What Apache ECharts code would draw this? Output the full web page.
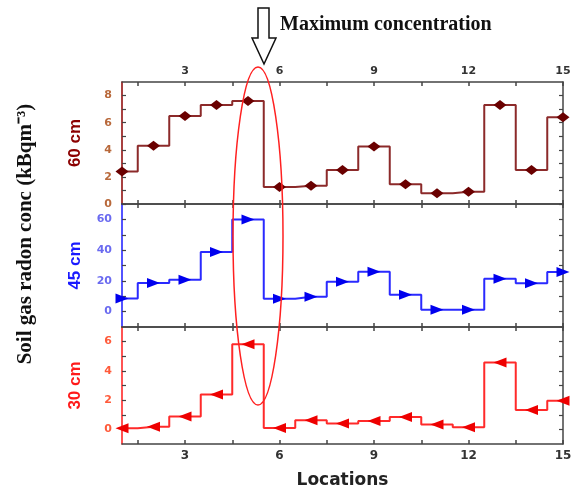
<!DOCTYPE html>
<html>
<head>
<meta charset="utf-8">
<script src="https://cdn.jsdelivr.net/npm/echarts@6/dist/echarts.min.js"></script>
<style>
  html, body { margin: 0; padding: 0; background: #fff; }
  #chart { width: 575px; height: 490px; }
</style>
</head>
<body>
<div id="chart"></div>
<script>
// values (kBq m^-3) at locations 1..15
const locations = [1, 2, 3, 4, 5, 6, 7, 8, 9, 10, 11, 12, 13, 14, 15]
const conc60 = [2.4, 4.3, 6.5, 7.3, 7.6, 1.25, 1.35, 2.5, 4.25, 1.45, 0.8, 0.9, 7.3, 2.5, 6.4]
const conc45 = [8.6, 18.6, 20.7, 38.7, 60, 8.4, 9.7, 19.4, 25.9, 11, 1.2, 1.2, 21.4, 18.4, 25.7]
const conc30 = [0.08, 0.18, 0.88, 2.38, 5.82, 0.1, 0.62, 0.4, 0.58, 0.84, 0.33, 0.15, 4.58, 1.32, 1.96]

const xLabels = [3, 6, 9, 12, 15]
const xTicks = [1.5, 3, 4.5, 6, 7.5, 9, 10.5, 12, 13.5, 15]
const y60Labels = [0, 2, 4, 6, 8]
const y60Ticks = [0, 1, 2, 3, 4, 5, 6, 7, 8]
const y45Labels = [0, 20, 40, 60]
const y45Ticks = [0, 10, 20, 30, 40, 50, 60]
const y30Labels = [0, 2, 4, 6]
const y30Ticks = [0, 1, 2, 3, 4, 5, 6]

const frame = "#444"
const labelFont = { fontFamily: "DejaVu Sans", fontWeight: "bold", fontSize: 11 }

const panels = [
    { top: 82, height: 122, name: "60 cm", color: "#8b0000", line: "#8c2a2a", tickColor: "#b8683a",
      min: 0, max: 9, labels: y60Labels, ticks: y60Ticks, data: conc60,
      symbol: "diamond", size: [13, 10], rotate: 0, mark: "#6a0000" },
    { top: 204, height: 123, name: "45 cm", color: "#1a1aff", line: "#2a2aff", tickColor: "#6a6af0",
      min: -10, max: 70, labels: y45Labels, ticks: y45Ticks, data: conc45,
      symbol: "triangle", size: [10, 13], rotate: -90, mark: "#0000ee" },
    { top: 327, height: 121, name: "30 cm", color: "#ff1a1a", line: "#ff2a2a", tickColor: "#ff5a3a",
      min: -1, max: 7, labels: y30Labels, ticks: y30Ticks, data: conc30,
      symbol: "triangle", size: [10, 13], rotate: 90, mark: "#ee0000" }
]

const grid = [], xAxis = [], yAxis = [], series = []

panels.forEach((p, i) => {
    grid.push({ left: 122, right: 12, top: p.top, height: p.height })

    const xBase = {
        gridIndex: i, type: "value", min: 1, max: 15,
        axisLine: { onZero: false, lineStyle: { color: frame, width: 1.5 } },
        axisTick: { inside: true, length: 4, customValues: xTicks, lineStyle: { color: frame, width: 1.5 } },
        splitLine: { show: false }
    }
    xAxis.push({ ...xBase, position: "bottom",
        axisLabel: i === 2
            ? { show: true, customValues: xLabels, color: "#333", margin: 6, ...labelFont, fontSize: 12 }
            : { show: false },
        name: i === 2 ? "Locations" : "",
        nameLocation: "middle", nameGap: 28,
        nameTextStyle: { fontFamily: "DejaVu Sans", fontWeight: "bold", fontSize: 17, color: "#222" }
    })
    xAxis.push({ ...xBase, position: "top",
        axisLabel: i === 0
            ? { show: true, customValues: xLabels, color: "#333", margin: 5, ...labelFont }
            : { show: false }
    })

    yAxis.push({
        gridIndex: i, type: "value", position: "left", min: p.min, max: p.max,
        axisLine: { show: true, onZero: false, lineStyle: { color: p.color, width: 1.5 } },
        axisTick: { show: true, inside: true, length: 4, customValues: p.ticks, lineStyle: { color: frame, width: 1.2 } },
        axisLabel: { customValues: p.labels, color: p.tickColor, margin: 10, ...labelFont },
        splitLine: { show: false },
        name: p.name, nameLocation: "middle", nameGap: 38, nameRotate: 90,
        nameTextStyle: { fontFamily: "Liberation Sans", fontWeight: "bold", fontSize: 17, color: p.color }
    })
    yAxis.push({
        gridIndex: i, type: "value", position: "right", min: p.min, max: p.max,
        axisLine: { show: true, onZero: false, lineStyle: { color: frame, width: 1.5 } },
        axisTick: { show: true, inside: true, length: 4, customValues: p.ticks, lineStyle: { color: frame, width: 1.2 } },
        axisLabel: { show: false },
        splitLine: { show: false }
    })

    series.push({
        type: "line", name: p.name, step: "middle",
        xAxisIndex: i * 2, yAxisIndex: i * 2,
        data: locations.map((x, k) => [x, p.data[k]]),
        lineStyle: { color: p.line, width: 2 },
        symbol: p.symbol, symbolSize: p.size, symbolRotate: p.rotate,
        itemStyle: { color: p.mark },
        showAllSymbol: true,
        animation: false
    })
})

const chart = echarts.init(document.getElementById("chart"))
chart.setOption({
    backgroundColor: "#fff",
    animation: false,
    grid, xAxis, yAxis, series,
    graphic: [
        {
            type: "text", x: 26, y: 234, rotation: Math.PI / 2,
            style: {
                text: "Soil gas radon conc (kBqm\u207B\u00B3)",
                fontFamily: "Liberation Serif", fontWeight: "bold", fontSize: 21,
                fill: "#111", align: "center", verticalAlign: "middle"
            }
        },
        {
            type: "ellipse", z: 100,
            shape: { cx: 258, cy: 236, rx: 25, ry: 169 },
            style: { fill: null, stroke: "#ff2020", lineWidth: 1.5 }
        },
        {
            type: "polygon", z: 100,
            shape: { points: [[258, 8], [269, 8], [269, 38], [276, 38], [264, 64], [252, 38], [258, 38]] },
            style: { fill: "#fff", stroke: "#111", lineWidth: 1.5 }
        },
        {
            type: "text", x: 280, y: 25, z: 100,
            style: {
                text: "Maximum concentration",
                fontFamily: "Liberation Serif", fontWeight: "bold", fontSize: 20,
                fill: "#111", align: "left", verticalAlign: "middle"
            }
        }
    ]
})
</script>
</body>
</html>
